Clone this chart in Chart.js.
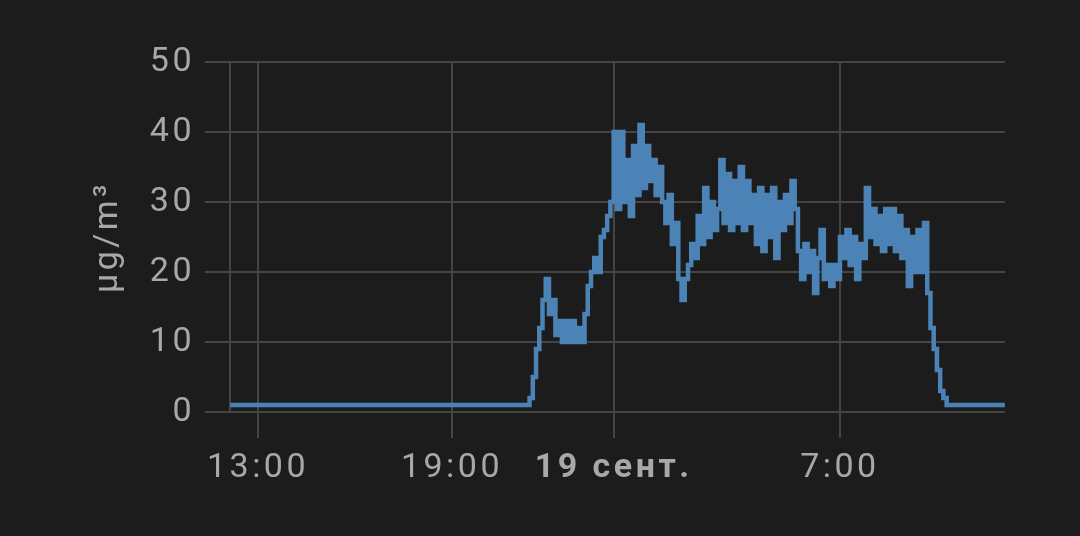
<!DOCTYPE html>
<html>
<head>
<meta charset="utf-8">
<script src="https://cdn.jsdelivr.net/npm/chart.js@4/dist/chart.umd.min.js"></script>
<style>
    html, body { margin: 0; padding: 0; background: #1c1c1c; }
    #wrap { width: 1080px; height: 536px; }
</style>
</head>
<body>
<div id="wrap"><canvas id="pmChart" width="1080" height="536"></canvas></div>
<script>
// ===============================
// DATA (hours from 0:00 of the first day, 24 = midnight)
// ===============================
const times = [
    12.14,
    21.2, 21.3, 21.4, 21.5, 21.6, 21.7, 21.8, 21.9,
    22.0, 22.1, 22.2, 22.3, 22.4, 22.5, 22.6, 22.7, 22.8, 22.9,
    23.0, 23.1, 23.2, 23.3, 23.4, 23.5, 23.6, 23.7, 23.8, 23.9,
    24.0, 24.1, 24.2, 24.3, 24.4, 24.5, 24.6, 24.7, 24.8, 24.9,
    25.0, 25.1, 25.2, 25.3, 25.4, 25.5, 25.6, 25.7, 25.8, 25.9,
    26.0, 26.1, 26.2, 26.3, 26.4, 26.5, 26.6, 26.7, 26.8, 26.9,
    27.0, 27.1, 27.2, 27.3, 27.4, 27.5, 27.6, 27.7, 27.8, 27.9,
    28.0, 28.1, 28.2, 28.3, 28.4, 28.5, 28.6, 28.7, 28.8, 28.9,
    29.0, 29.1, 29.2, 29.3, 29.4, 29.5, 29.6, 29.7, 29.8, 29.9,
    30.0, 30.1, 30.2, 30.3, 30.4, 30.5, 30.6, 30.7, 30.8, 30.9,
    31.0, 31.1, 31.2, 31.3, 31.4, 31.5, 31.6, 31.7, 31.8, 31.9,
    32.0, 32.1, 32.2, 32.3, 32.4, 32.5, 32.6, 32.7, 32.8, 32.9,
    33.0, 33.1, 33.2, 33.3, 33.4, 33.5, 33.6, 33.7, 33.8, 33.9,
    34.0, 34.1, 34.2, 34.3, 34.4,
    36.1
];

const pm25 = [
    1,
    1, 1, 2, 5, 9, 12, 16, 19,
    14, 16, 11, 13, 10, 13, 10, 13, 10, 12,
    10, 14, 18, 20, 22, 20, 25, 26, 28, 30,
    40, 29, 40, 30, 36, 28, 38, 31, 41, 32,
    38, 33, 36, 31, 35, 30, 27, 31, 24, 27,
    19, 16, 19, 21, 24, 22, 28, 24, 32, 25,
    30, 26, 29, 36, 27, 34, 26, 33, 27, 35,
    26, 33, 27, 31, 24, 32, 23, 31, 25, 32,
    22, 30, 26, 31, 27, 33, 29, 23, 19, 24,
    20, 23, 17, 22, 26, 19, 21, 18, 21, 19,
    25, 22, 26, 21, 25, 19, 24, 22, 32, 25,
    29, 24, 28, 23, 29, 24, 29, 23, 28, 22,
    26, 18, 25, 20, 26, 20, 27, 17, 12, 9,
    6, 3, 2, 1, 1,
    1
];

const xTicks = [13, 19, 24, 31];
const xTickLabels = ["13:00", "19:00", "19 сент.", "7:00"];
const yTicks = [0, 10, 20, 30, 40, 50];

document.addEventListener("DOMContentLoaded", () => {
    const TEXT = "#a8a8a8";
    const GRID = "#454545";
    const LINE = "#4c83b6";
    const FONT = "Roboto";

    // canvas letter spacing (labels in the reference are spaced out)
    const spacing = {
        id: "spacing",
        beforeUpdate(c) { c.ctx.letterSpacing = "3.5px"; },
        beforeDraw(c) { c.ctx.letterSpacing = "3.5px"; }
    };

    const points = times.map((t, i) => ({ x: t, y: pm25[i] }));

    new Chart(document.getElementById("pmChart"), {
        type: "line",
        data: {
            datasets: [{
                data: points,
                borderColor: LINE,
                borderWidth: 4.5,
                pointRadius: 0,
                stepped: true,
                tension: 0,
                fill: false
            }]
        },
        options: {
            responsive: false,
            animation: false,
            devicePixelRatio: 1,
            layout: { padding: { top: 62, right: 75, left: 0, bottom: 0 } },
            plugins: { legend: { display: false }, tooltip: { enabled: false } },
            scales: {
                x: {
                    type: "linear",
                    min: 12.134,
                    max: 36.105,
                    afterBuildTicks: (axis) => { axis.ticks = xTicks.map((v) => ({ value: v })); },
                    afterFit: (axis) => { axis.height = 124; },
                    grid: { color: GRID, lineWidth: 2, tickLength: 26 },
                    border: { display: false },
                    ticks: {
                        color: TEXT,
                        padding: 10,
                        maxRotation: 0,
                        autoSkip: false,
                        font: (ctx) => ({
                            family: FONT,
                            size: 34,
                            weight: ctx.tick && ctx.tick.value === 24 ? "bold" : "normal"
                        }),
                        callback: (v) => xTickLabels[xTicks.indexOf(v)] ?? ""
                    }
                },
                y: {
                    min: 0,
                    max: 50,
                    afterBuildTicks: (axis) => { axis.ticks = yTicks.map((v) => ({ value: v })); },
                    afterFit: (axis) => { axis.width = 230; },
                    grid: { color: GRID, lineWidth: 2, tickLength: 25 },
                    border: { display: true, color: GRID, width: 2 },
                    ticks: {
                        color: TEXT,
                        padding: 10,
                        font: { family: FONT, size: 34 }
                    },
                    title: {
                        display: true,
                        text: "µg/m³",
                        color: TEXT,
                        padding: { top: 88, bottom: 0 },
                        font: { family: FONT, size: 34 }
                    }
                }
            }
        },
        plugins: [spacing]
    });
});
</script>
</body>
</html>
